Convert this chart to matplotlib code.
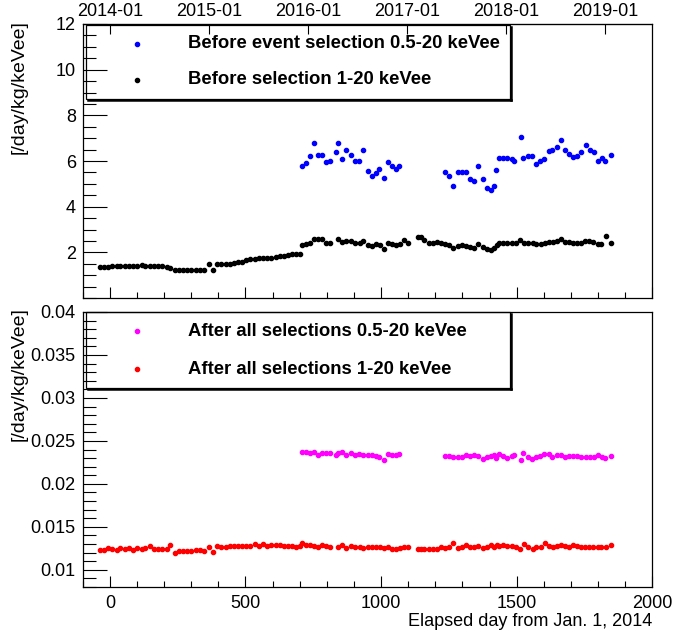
import matplotlib
matplotlib.use('Agg')
import matplotlib.pyplot as plt
from matplotlib.patches import Rectangle
from matplotlib.lines import Line2D
from matplotlib.ticker import MultipleLocator
from datetime import date

plt.rcParams['font.family'] = ['Liberation Sans', 'DejaVu Sans']

# days for the 1-20 keVee series (before selection / after all selections)
days_low = [-37, -22, -6, 9, 25, 39, 55, 70, 86, 101,
            117, 131, 147, 162, 178, 193, 209, 223, 239, 254,
            270, 285, 301, 316, 331, 346, 366, 381, 395, 411,
            427, 442, 457, 473, 489, 503, 518, 534, 550, 565,
            579, 595, 611, 626, 641, 657, 673, 687, 702, 710,
            724, 737, 753, 767, 782, 798, 813, 841, 857, 872,
            890, 905, 921, 933, 951, 966, 982, 997, 1009, 1025,
            1041, 1055, 1070, 1086, 1101, 1135, 1148, 1160, 1176, 1191,
            1205, 1221, 1237, 1252, 1267, 1283, 1297, 1313, 1328, 1344,
            1359, 1375, 1389, 1405, 1418, 1426, 1436, 1450, 1466, 1481,
            1497, 1512, 1528, 1542, 1559, 1573, 1589, 1604, 1620, 1635,
            1649, 1664, 1679, 1693, 1708, 1723, 1737, 1752, 1767, 1782,
            1798, 1812, 1831, 1846]

before_1_20 = [1.36, 1.34, 1.36, 1.38, 1.41, 1.38, 1.38, 1.38, 1.41, 1.41,
               1.43, 1.41, 1.41, 1.41, 1.41, 1.40, 1.36, 1.30, 1.23, 1.23,
               1.21, 1.21, 1.21, 1.23, 1.24, 1.23, 1.47, 1.21, 1.50, 1.49,
               1.47, 1.50, 1.53, 1.57, 1.59, 1.67, 1.69, 1.70, 1.73, 1.75,
               1.76, 1.76, 1.80, 1.83, 1.86, 1.89, 1.91, 1.91, 1.91, 2.34,
               2.37, 2.43, 2.60, 2.57, 2.60, 2.40, 2.40, 2.59, 2.44, 2.51,
               2.49, 2.43, 2.43, 2.51, 2.31, 2.28, 2.36, 2.34, 2.16, 2.42,
               2.37, 2.34, 2.37, 2.54, 2.40, 2.69, 2.65, 2.54, 2.40, 2.43,
               2.44, 2.40, 2.37, 2.30, 2.18, 2.28, 2.30, 2.28, 2.25, 2.21,
               2.36, 2.23, 2.14, 2.11, 2.17, 2.30, 2.40, 2.40, 2.40, 2.40,
               2.40, 2.54, 2.40, 2.43, 2.43, 2.36, 2.37, 2.40, 2.46, 2.47,
               2.50, 2.60, 2.47, 2.44, 2.43, 2.43, 2.43, 2.51, 2.50, 2.47,
               2.36, 2.37, 2.73, 2.40]

after_1_20 = [0.01231, 0.01231, 0.01250, 0.01246, 0.01235, 0.01258, 0.01246, 0.01258, 0.01231, 0.01258,
              0.01246, 0.01250, 0.01281, 0.01242, 0.01246, 0.01242, 0.01246, 0.01289, 0.01192, 0.01219,
              0.01219, 0.01219, 0.01223, 0.01231, 0.01231, 0.01219, 0.01269, 0.01204, 0.01277, 0.01269,
              0.01269, 0.01277, 0.01273, 0.01281, 0.01281, 0.01281, 0.01281, 0.01296, 0.01281, 0.01296,
              0.01281, 0.01289, 0.01289, 0.01285, 0.01277, 0.01277, 0.01273, 0.01262, 0.01273, 0.01308,
              0.01289, 0.01285, 0.01281, 0.01269, 0.01285, 0.01281, 0.01269, 0.01262, 0.01285, 0.01258,
              0.01277, 0.01262, 0.01262, 0.01254, 0.01269, 0.01262, 0.01262, 0.01262, 0.01250, 0.01269,
              0.01246, 0.01246, 0.01250, 0.01269, 0.01269, 0.01246, 0.01242, 0.01239, 0.01239, 0.01239,
              0.01239, 0.01262, 0.01254, 0.01269, 0.01308, 0.01250, 0.01269, 0.01285, 0.01262, 0.01269,
              0.01281, 0.01258, 0.01269, 0.01285, 0.01269, 0.01285, 0.01277, 0.01285, 0.01277, 0.01277,
              0.01269, 0.01246, 0.01296, 0.01269, 0.01239, 0.01262, 0.01262, 0.01308, 0.01277, 0.01269,
              0.01277, 0.01292, 0.01277, 0.01269, 0.01285, 0.01277, 0.01269, 0.01269, 0.01262, 0.01269,
              0.01262, 0.01269, 0.01269, 0.01289]

# days for the 0.5-20 keVee series
days_high = [710, 724, 737, 753, 767, 782, 798, 813, 835, 842,
             857, 872, 890, 905, 918, 933, 951, 966, 982, 994,
             1009, 1025, 1041, 1055, 1067,
             1237, 1252, 1267, 1283, 1297, 1313, 1328, 1344, 1359, 1375,
             1389, 1405, 1418, 1424, 1436, 1450, 1466, 1481, 1491, 1516,
             1524, 1540, 1556, 1571, 1587, 1602, 1618, 1632, 1647, 1662,
             1678, 1694, 1708, 1723, 1737, 1755, 1769, 1785, 1798, 1815,
             1825, 1846]

before_05_20 = [5.76, 5.91, 6.21, 6.78, 6.27, 6.27, 5.95, 6.02, 6.41, 6.78,
                6.07, 6.46, 6.27, 5.99, 5.99, 6.49, 5.56, 5.34, 5.47, 5.66,
                5.24, 5.95, 5.78, 5.66, 5.80,
                5.54, 5.33, 4.92, 5.50, 5.53, 5.50, 5.21, 5.11, 5.78, 5.20,
                4.80, 4.73, 4.89, 5.62, 6.11, 6.11, 6.14, 6.09, 6.02, 7.05,
                6.14, 6.22, 6.22, 5.89, 6.02, 6.08, 6.44, 6.49, 6.60, 6.91,
                6.47, 6.31, 6.17, 6.24, 6.38, 6.72, 6.46, 6.38, 5.98, 6.14,
                5.98, 6.27]

after_05_20 = [0.02366, 0.02374, 0.02359, 0.02366, 0.02339, 0.02359, 0.02359, 0.02355, 0.02336, 0.02355,
               0.02374, 0.02336, 0.02355, 0.02339, 0.02347, 0.02339, 0.02339, 0.02336, 0.02320, 0.02309,
               0.02278, 0.02347, 0.02339, 0.02339, 0.02347,
               0.02328, 0.02328, 0.02316, 0.02309, 0.02316, 0.02336, 0.02324, 0.02336, 0.02328, 0.02289,
               0.02309, 0.02328, 0.02332, 0.02301, 0.02347, 0.02328, 0.02305, 0.02324, 0.02339, 0.02278,
               0.02355, 0.02309, 0.02286, 0.02316, 0.02328, 0.02347, 0.02347, 0.02309, 0.02332, 0.02332,
               0.02309, 0.02320, 0.02324, 0.02320, 0.02316, 0.02313, 0.02313, 0.02309, 0.02339, 0.02316,
               0.02297, 0.02320]

year_labels = ['2014-01', '2015-01', '2016-01', '2017-01', '2018-01', '2019-01']
bottom_yticks = [0.01, 0.015, 0.02, 0.025, 0.03, 0.035, 0.04]
bottom_ylabels = ['0.01', '0.015', '0.02', '0.025', '0.03', '0.035', '0.04']

W, H = 675, 633

def fx(x):
    return x / W

def fy(y):
    return 1 - y / H

def style_axis(ax):
    ax.tick_params(axis='y', which='major', direction='in', length=17, width=0.8,
                   labelsize=13, pad=5, right=False)
    ax.tick_params(axis='y', which='minor', direction='in', length=9, width=0.8, right=False)
    ax.tick_params(axis='x', which='major', direction='in', length=8, width=0.8,
                   labelsize=13, pad=6, top=False)
    ax.tick_params(axis='x', which='minor', direction='in', length=4, width=0.8, top=False)
    ax.xaxis.set_major_locator(MultipleLocator(500))
    ax.xaxis.set_minor_locator(MultipleLocator(100))
    ax.set_xlim(-100, 2000)
    for s in ax.spines.values():
        s.set_linewidth(0.9)

def legend_box(x0, y0, x1, y1, entries):
    fig.add_artist(Rectangle((fx(x0), fy(y1)), fx(x1 - x0), (y1 - y0) / H,
                             transform=fig.transFigure, fill=False, lw=0.9, ec='black'))
    # shadow on bottom and right edge
    fig.add_artist(Line2D([fx(x0 + 2), fx(x1 + 1.2)], [fy(y1 + 1.2), fy(y1 + 1.2)],
                          transform=fig.transFigure, lw=1.8, color='black'))
    fig.add_artist(Line2D([fx(x1 + 1.2), fx(x1 + 1.2)], [fy(y0 + 2), fy(y1 + 1.2)],
                          transform=fig.transFigure, lw=1.8, color='black'))
    for y, color, label in entries:
        fig.add_artist(Line2D([fx(137)], [fy(y)], marker='o', ms=3.0, color=color,
                              mec=color, ls='none', transform=fig.transFigure))
        fig.text(fx(188), fy(y), label, fontsize=13.3, fontweight='bold', va='center', ha='left')

fig = plt.figure(figsize=(6.75, 6.33), dpi=100)

# top panel
ax1 = fig.add_axes([fx(82.7), fy(298), (652.3 - 82.7) / W, (298 - 24) / H])
ax1.plot(days_high, before_05_20, 'o', color='blue', ms=3.0, mec='blue')
ax1.plot(days_low, before_1_20, 'o', color='black', ms=3.0, mec='black')
style_axis(ax1)
ax1.set_ylim(0, 12)
ax1.set_yticks([2, 4, 6, 8, 10, 12])
ax1.yaxis.set_minor_locator(MultipleLocator(0.5))
ax1.tick_params(axis='x', labelbottom=False)

start = date(2014, 1, 1)
year_pos = [(date(int(l[:4]), int(l[5:]), 1) - start).days for l in year_labels]
top = ax1.secondary_xaxis('top')
top.set_xticks(year_pos)
top.set_xticklabels(year_labels)
top.tick_params(direction='in', length=7, width=0.8, labelsize=13, pad=3)
top.xaxis.set_minor_locator(MultipleLocator(10000))

# bottom panel
ax2 = fig.add_axes([fx(82.7), fy(587), (652.3 - 82.7) / W, (587 - 312) / H])
ax2.plot(days_high, after_05_20, 'o', color='magenta', ms=3.0, mec='magenta')
ax2.plot(days_low, after_1_20, 'o', color='red', ms=3.0, mec='red')
style_axis(ax2)
ax2.set_ylim(0.008, 0.04)
ax2.set_yticks(bottom_yticks)
ax2.set_yticklabels(bottom_ylabels)
ax2.yaxis.set_minor_locator(MultipleLocator(0.001))

fig.text(fx(19), fy(20), '[/day/kg/keVee]', rotation=90, ha='center', va='top', fontsize=14)
fig.text(fx(19), fy(307), '[/day/kg/keVee]', rotation=90, ha='center', va='top', fontsize=14)
fig.text(fx(652), fy(622), 'Elapsed day from Jan. 1, 2014', ha='right', va='center', fontsize=13)

legend_box(86, 25, 510, 99, [(44, 'blue', 'Before event selection 0.5-20 keVee'),
                             (80, 'black', 'Before selection 1-20 keVee')])
legend_box(86, 312, 510, 388, [(331, 'magenta', 'After all selections 0.5-20 keVee'),
                               (369, 'red', 'After all selections 1-20 keVee')])

fig.savefig('out.png', dpi=100)
